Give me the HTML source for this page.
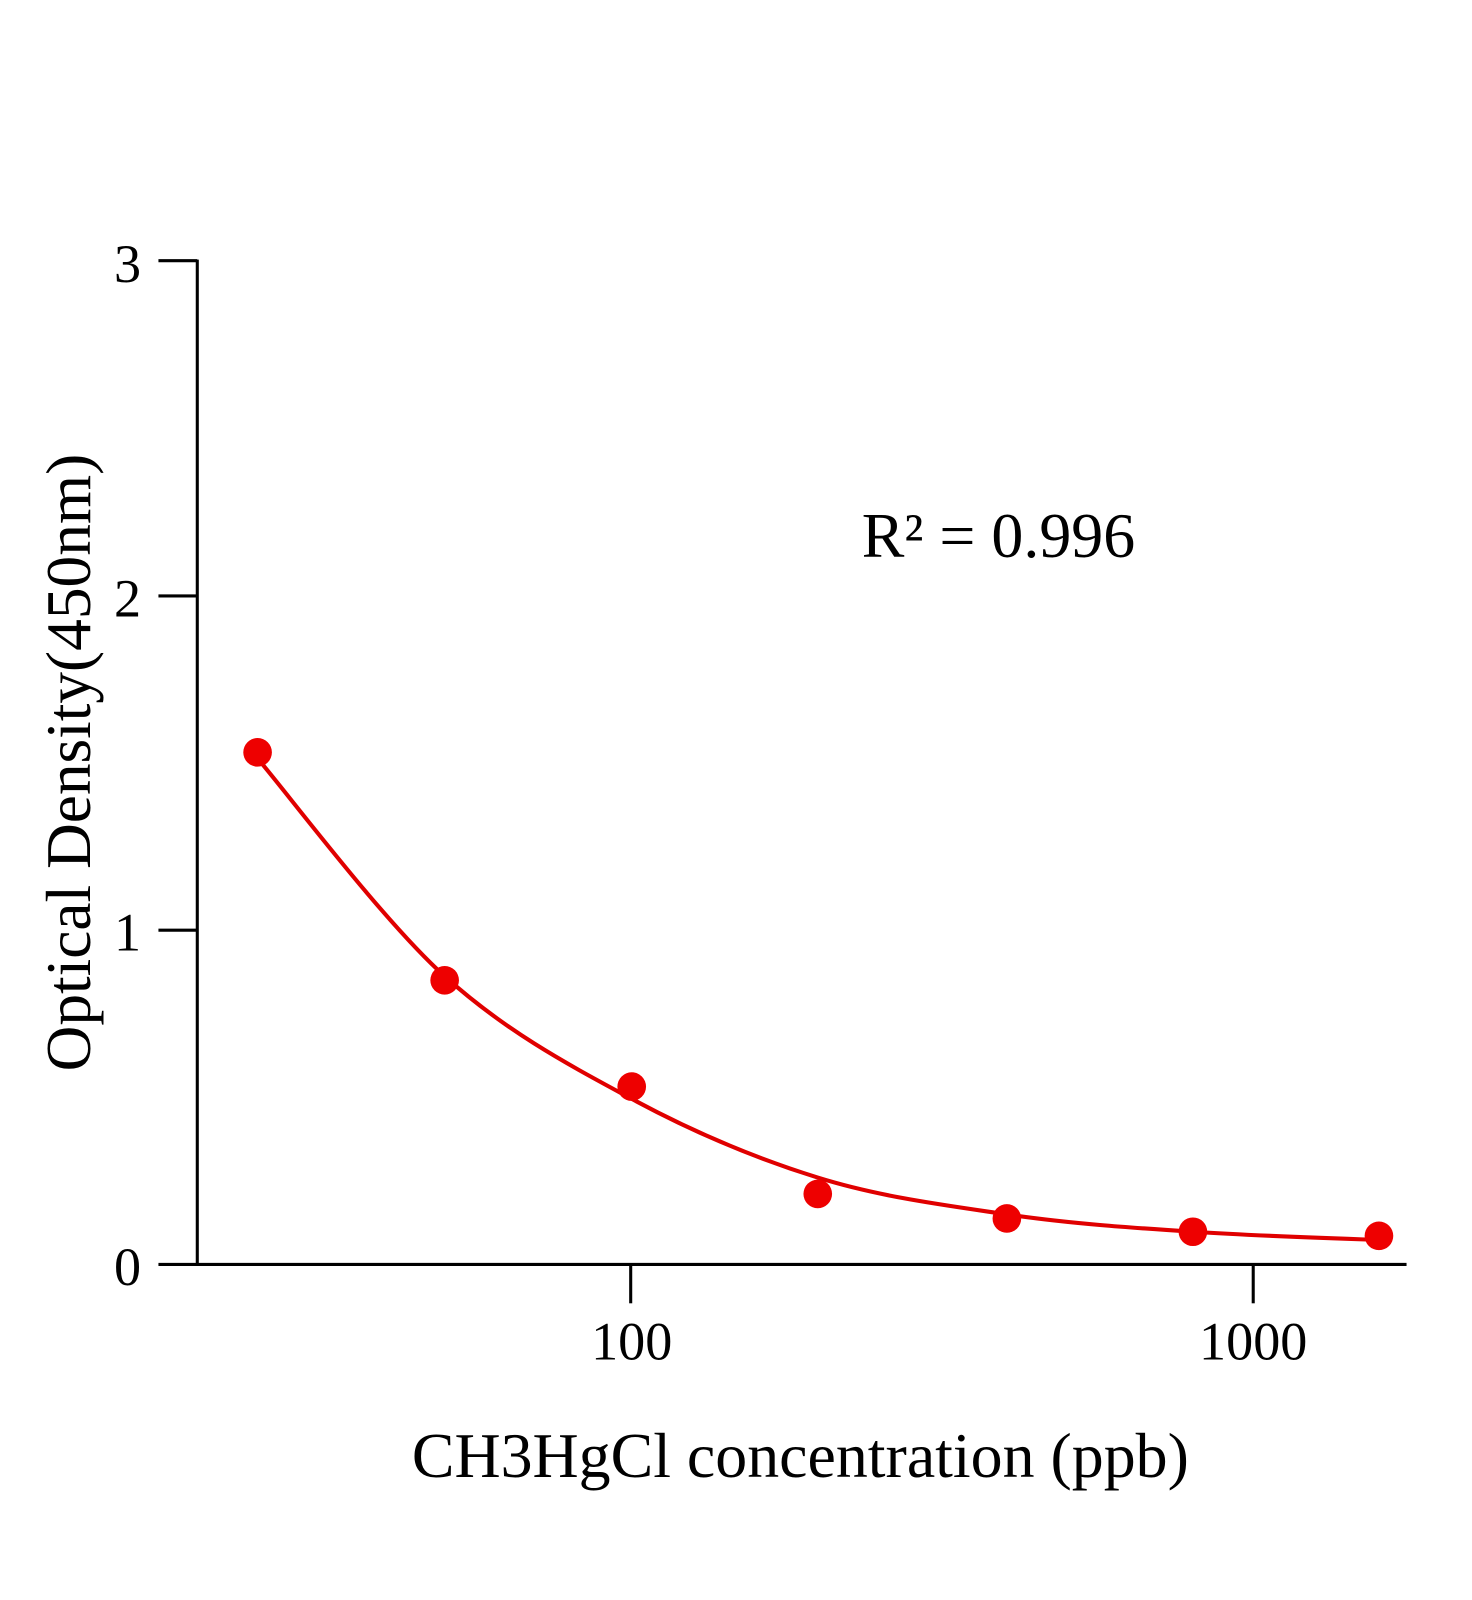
<!DOCTYPE html>
<html><head><meta charset="utf-8"><style>
html,body{margin:0;padding:0;background:#fff;}
svg{display:block;}
text{font-family:"Liberation Serif",serif;fill:#000;}
</style></head><body>
<svg width="1472" height="1600" viewBox="0 0 1472 1600" xmlns="http://www.w3.org/2000/svg">
<rect width="1472" height="1600" fill="#fff"/>
<g transform="scale(1.0222)">
<g stroke="#000" stroke-width="3" fill="none">
<line x1="193" y1="254" x2="193" y2="1238"/>
<line x1="192" y1="1237" x2="1376" y2="1237"/>
<line x1="155" y1="255" x2="193" y2="255"/>
<line x1="155" y1="583" x2="193" y2="583"/>
<line x1="155" y1="910" x2="193" y2="910"/>
<line x1="155" y1="1237" x2="193" y2="1237"/>
<line x1="617" y1="1237" x2="617" y2="1275"/>
<line x1="1226" y1="1237" x2="1226" y2="1275"/>
</g>
<g font-size="53" text-anchor="end">
<text x="138" y="276">3</text>
<text x="138" y="603">2</text>
<text x="138" y="930">1</text>
<text x="138" y="1257">0</text>
</g>
<g font-size="53" text-anchor="middle">
<text x="618" y="1330">100</text>
<text x="1226" y="1330">1000</text>
</g>
<text x="783" y="1445" font-size="62.5" text-anchor="middle">CH3HgCl concentration (ppb)</text>
<text transform="translate(88,746) rotate(-90)" font-size="62" text-anchor="middle">Optical Density(450nm)</text>
<text x="843" y="545" font-size="62.5">R² = 0.996</text>
<path d="M252,742 C282,777 374,900 435,955 C496,1010 557,1042 618,1075 C679,1108 739,1133 800,1152 C861,1171 924,1179 985,1188 C1046,1197 1106,1201 1167,1205 C1228,1209 1319,1212 1349,1213" stroke="#e00000" stroke-width="4" fill="none"/>
<g fill="#ee0000">
<circle cx="252" cy="736" r="14"/>
<circle cx="435" cy="959" r="14"/>
<circle cx="618" cy="1063" r="14"/>
<circle cx="800" cy="1168" r="14"/>
<circle cx="985" cy="1192" r="14"/>
<circle cx="1167" cy="1205" r="14"/>
<circle cx="1349" cy="1209" r="14"/>
</g>
</g>
</svg>
</body></html>
